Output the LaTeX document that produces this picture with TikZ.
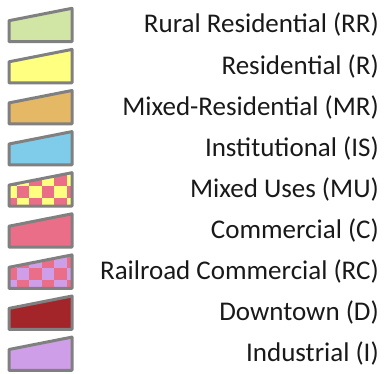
\documentclass[tikz,border=0pt]{standalone}
\usepackage{fontspec}
\setmainfont{Carlito}
\usepackage{tikz}
\definecolor{rrgreen}{RGB}{209,230,165}
\definecolor{ryellow}{RGB}{255,255,128}
\definecolor{mrtan}{RGB}{229,184,102}
\definecolor{isblue}{RGB}{126,204,234}
\definecolor{cpink}{RGB}{235,110,137}
\definecolor{ddarkred}{RGB}{163,37,42}
\definecolor{ipurple}{RGB}{206,159,232}
\definecolor{edgegray}{RGB}{128,128,128}

\begin{document}
\begin{tikzpicture}[x=1pt, y=-1pt,
    swatch/.style={draw=edgegray, line width=3pt, line join=round},
    zonelabel/.style={anchor=base east, inner sep=0pt, text=black!90,
                      font=\fontsize{27}{30}\selectfont},
    checker/.style 2 args={fill=#1, path picture={
        \foreach \c in {0,...,5} {
            \foreach \r in {0,...,2} {
                \pgfmathtruncatemacro\cpar{mod(\c+\r,2)}
                \ifnum\cpar=0
                    \fill[#2, shift={(path picture bounding box.south west)}]
                        (-5+12.5*\c, 4.5-12.5*\r) rectangle ++(12.5,-12.5);
                \fi
            }
        }}}
]
    \useasboundingbox (0,0) rectangle (389,374);

    % swatches
    \draw[swatch, fill=rrgreen] (9,41.7) -- ++(0,-21) -- ++(63,-12.4) -- ++(0,33.4) -- cycle;
    \draw[swatch, fill=ryellow] (9,82.8) -- ++(0,-21) -- ++(63,-12.4) -- ++(0,33.4) -- cycle;
    \draw[swatch, fill=mrtan] (9,123.9) -- ++(0,-21) -- ++(63,-12.4) -- ++(0,33.4) -- cycle;
    \draw[swatch, fill=isblue] (9,165.0) -- ++(0,-21) -- ++(63,-12.4) -- ++(0,33.4) -- cycle;
    \draw[swatch, checker={ryellow}{cpink}] (9,206.1) -- ++(0,-21) -- ++(63,-12.4) -- ++(0,33.4) -- cycle;
    \draw[swatch, fill=cpink] (9,247.2) -- ++(0,-21) -- ++(63,-12.4) -- ++(0,33.4) -- cycle;
    \draw[swatch, checker={cpink}{ipurple}] (9,288.3) -- ++(0,-21) -- ++(63,-12.4) -- ++(0,33.4) -- cycle;
    \draw[swatch, fill=ddarkred] (9,329.4) -- ++(0,-21) -- ++(63,-12.4) -- ++(0,33.4) -- cycle;
    \draw[swatch, fill=ipurple] (9,370.5) -- ++(0,-21) -- ++(63,-12.4) -- ++(0,33.4) -- cycle;

    % labels
    \node[zonelabel] (rr) at (379,33) {Rural Residential (RR)};
    \node[zonelabel] (r) at (379,74.1) {Residential (R)};
    \node[zonelabel] (mr) at (379,115.2) {Mixed-Residential (MR)};
    \node[zonelabel] (is) at (379,156.3) {Institutional (IS)};
    \node[zonelabel] (mu) at (379,197.4) {Mixed Uses (MU)};
    \node[zonelabel] (c) at (379,238.5) {Commercial (C)};
    \node[zonelabel] (rc) at (379,279.6) {Railroad Commercial (RC)};
    \node[zonelabel] (d) at (379,320.7) {Downtown (D)};
    \node[zonelabel] (i) at (379,361.8) {Industrial (I)};
\end{tikzpicture}
\end{document}
